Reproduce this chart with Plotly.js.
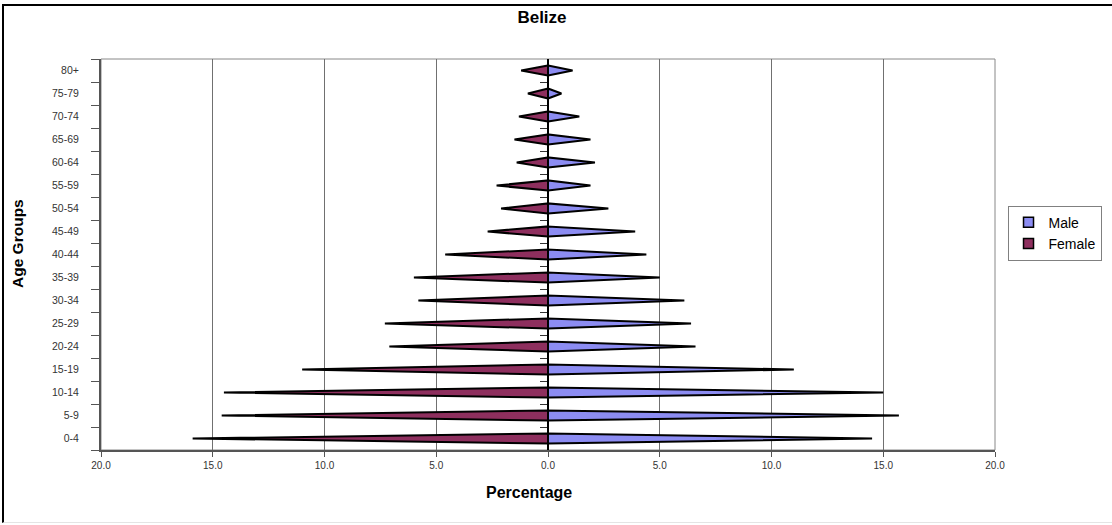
<!DOCTYPE html>
<html>
<head>
<meta charset="utf-8">
<script src="https://cdn.plot.ly/plotly-3.0.1.min.js"></script>
<style>
  html, body { margin: 0; padding: 0; background: #ffffff; }
  #frame { position: absolute; left: 2px; top: 4px; width: 1130px; height: 516px;
           border-left: 2px solid #000; border-top: 2px solid #000; border-bottom: 1px solid #e4e4e4; }
  #chart { position: absolute; left: 0; top: 0; width: 1112px; height: 525px; }
</style>
</head>
<body>
<div id="frame"></div>
<div id="chart"></div>
<script>
const ageGroups = ['0-4','5-9','10-14','15-19','20-24','25-29','30-34','35-39','40-44','45-49','50-54','55-59','60-64','65-69','70-74','75-79','80+'];
const male   = [14.5, 15.7, 15.0, 11.0, 6.6, 6.4, 6.1, 5.0, 4.4, 3.9, 2.7, 1.9, 2.1, 1.9, 1.4, 0.6, 1.1];
const female = [15.9, 14.6, 14.5, 11.0, 7.1, 7.3, 5.8, 6.0, 4.6, 2.7, 2.1, 2.3, 1.4, 1.5, 1.3, 0.9, 1.2];
const xTickVals = [-20, -15, -10, -5, 0, 5, 10, 15, 20];
const xTickText = ['20.0','15.0','10.0','5.0','0.0','5.0','10.0','15.0','20.0'];
const maleColor = '#8c8cf2', femaleColor = '#8e2f5e';

const HALF = 0.22;
function wedges(vals, sign) {
  const xs = [], ys = [];
  vals.forEach((v, i) => {
    xs.push(0, sign * v, 0, 0, null);
    ys.push(i - HALF, i, i + HALF, i - HALF, null);
  });
  return {x: xs, y: ys};
}
const idx = ageGroups.map((_, i) => i);
const bounds = ageGroups.slice(1).map((_, i) => i + 0.5);

const m = wedges(male, 1), f = wedges(female, -1);
const traces = [
  {type: 'scatter', mode: 'lines', name: 'Male', x: m.x, y: m.y, yaxis: 'y2', showlegend: false,
   fill: 'toself', fillcolor: maleColor, line: {color: '#000', width: 2}, hoverinfo: 'skip'},
  {type: 'scatter', mode: 'lines', name: 'Female', x: f.x, y: f.y, showlegend: false,
   fill: 'toself', fillcolor: femaleColor, line: {color: '#000', width: 2}, hoverinfo: 'skip'},
  {type: 'scatter', mode: 'markers', name: 'Male', x: [null], y: [null],
   marker: {symbol: 'square', size: 10, color: maleColor, line: {color: '#000', width: 1.5}}},
  {type: 'scatter', mode: 'markers', name: 'Female', x: [null], y: [null],
   marker: {symbol: 'square', size: 10, color: femaleColor, line: {color: '#000', width: 1.5}}}
];

const layout = {
  width: 1112, height: 525,
  margin: {l: 101, r: 117, t: 59, b: 75, autoexpand: false},
  paper_bgcolor: 'rgba(0,0,0,0)', plot_bgcolor: '#ffffff',
  font: {family: '"Liberation Sans", Arial, sans-serif', color: '#000'},
  title: {text: '<b>Belize</b>', font: {size: 17, color: '#000'}, x: 0.4874, xref: 'container', xanchor: 'center',
          y: 0.967, yref: 'container', yanchor: 'middle'},
  showlegend: true,
  legend: {x: 1.014, xanchor: 'left', y: 0.625, yanchor: 'top', bordercolor: '#808080', borderwidth: 1,
           bgcolor: '#fff', font: {size: 14, color: '#000'}, tracegroupgap: 0, itemwidth: 30},
  xaxis: {range: [-20, 20], tickmode: 'array', tickvals: xTickVals, ticktext: xTickText,
          ticks: 'outside', ticklen: 5, tickcolor: '#555', tickfont: {size: 10, color: '#333'},
          showgrid: true, gridcolor: '#707070', gridwidth: 1, zeroline: false,
          showline: true, linecolor: '#555', linewidth: 2, fixedrange: true},
  yaxis: {range: [-0.5, 16.5], tickmode: 'array', tickvals: idx, ticktext: ageGroups, ticks: '',
          ticklabelstandoff: 18,
          minor: {tickmode: 'linear', tick0: 0.5, dtick: 1, ticks: 'outside', ticklen: 8, tickcolor: '#555', showgrid: false},
          tickfont: {size: 10.5, color: '#333'}, showgrid: false, zeroline: false,
          showline: true, linecolor: '#555', linewidth: 2, fixedrange: true},
  yaxis2: {range: [-0.5, 16.5], overlaying: 'y', anchor: 'free', position: 0.5, side: 'left',
           tickmode: 'array', tickvals: bounds, ticks: 'outside', ticklen: 7, tickcolor: '#333', tickwidth: 1,
           showticklabels: false, showgrid: false, zeroline: false,
           showline: true, linecolor: '#000', linewidth: 2, fixedrange: true},
  annotations: [
    {text: '<b>Percentage</b>', xref: 'paper', yref: 'paper', x: 0.479, y: -0.109, xanchor: 'center', yanchor: 'middle',
     showarrow: false, font: {size: 16, color: '#000'}},
    {text: '<b>Age Groups</b>', xref: 'paper', yref: 'paper', x: -0.0928, y: 0.527, xanchor: 'center', yanchor: 'middle',
     textangle: -90, showarrow: false, font: {size: 15.5, color: '#000'}}
  ],
  shapes: [
    {type: 'rect', xref: 'paper', yref: 'paper', x0: 0, x1: 1, y0: 0, y1: 1,
     line: {color: '#888', width: 1}, fillcolor: 'rgba(0,0,0,0)', layer: 'below'}
  ]
};

Plotly.newPlot('chart', traces, layout, {displayModeBar: false, staticPlot: true});
</script>
</body>
</html>
